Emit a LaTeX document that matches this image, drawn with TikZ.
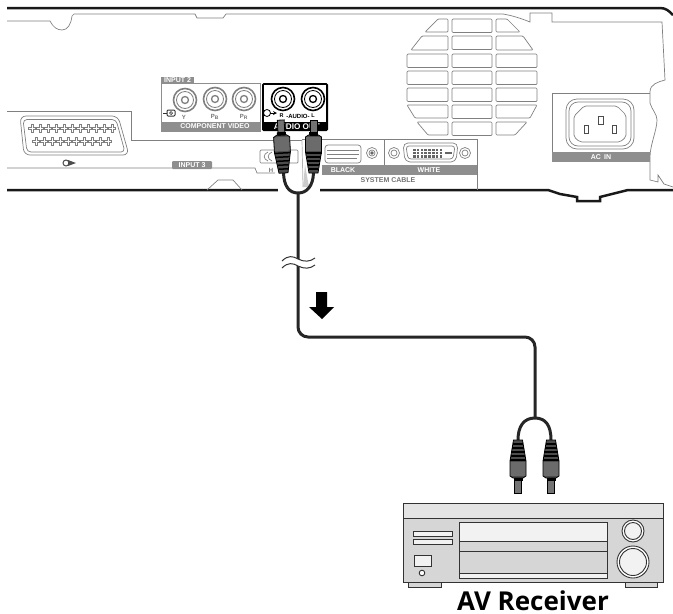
\documentclass[tikz,border=0pt]{standalone}
\usepackage{fontspec}
\setmainfont{Liberation Sans}
\setsansfont{Open Sans}
\usetikzlibrary{calc,shapes,arrows}
\definecolor{bandgray}{HTML}{8E8E8E}
\definecolor{linegray}{HTML}{808080}
\definecolor{bodygray}{HTML}{D6D6D6}
\definecolor{lidgray}{HTML}{E4E4E4}
\tikzset{
   casing/.style={draw=black!90, line width=2.5pt},
   thinline/.style={draw=linegray, line width=0.7pt},
   ventslot/.style={thinline, rounded corners=1pt},
   paneltext/.style={font=\bfseries\fontsize{7}{8}\selectfont, text=white, inner sep=0pt},
   graytext/.style={font=\bfseries\fontsize{6}{7}\selectfont, text=black!55, inner sep=0pt},
   cable/.style={draw=black!85, line width=3pt},
   receiver/.style={draw=black!80, line width=0.9pt},
   rcaplug/.pic={
     \fill[black!70] (-4.5,0) -- (4.5,0) -- (8,21) -- (8,36) -- (5,38) -- (-5,38) -- (-8,36) -- (-8,21) -- cycle;
     \foreach \r/\w in {4/4.8,8/5.6,12/6.3,16/7,20/8}
       \draw[black, line width=1.5pt] (-\w,\r) -- (\w,\r);
     \fill[black!58] (-8,22) rectangle (8,36);
     \draw[black, line width=0.8pt] (-4.5,0) -- (4.5,0) -- (8,21) -- (8,36) -- (5,38) -- (-5,38) -- (-8,36) -- (-8,21) -- cycle;
     \draw[black, line width=0.8pt, fill=black!55] (-3.4,38) rectangle (3.4,53);
     \fill[black] (-4.5,38) rectangle (4.5,41);
   }
}
\newcommand{\rcajack}[3]{
  \draw[#3, line width=1.6pt, fill=white] (#1,#2) circle (11.5pt);
  \draw[#3, line width=0.8pt] (#1,#2) circle (8.5pt);
  \draw[#3, line width=1.3pt] (#1,#2) circle (3.5pt);
}
\newcommand{\scartpin}[2]{
  \draw[linegray, line width=0.6pt, shift={(#1,#2)}] (-1.2,-4.2) -- (1.2,-4.2) -- (1.2,-1.2) -- (3.6,-1.2) -- (3.6,1.2) -- (1.2,1.2)
    -- (1.2,4.2) -- (-1.2,4.2) -- (-1.2,1.2) -- (-3.6,1.2) -- (-3.6,-1.2) -- (-1.2,-1.2) -- cycle;
}
\begin{document}
\begin{tikzpicture}[x=1pt,y=-1pt]
\useasboundingbox (0,0) rectangle (673,614);
% casing of the player
\draw[casing] (7,8) -- (660,8) .. controls (666,8) and (669,11) .. (673,15);
\draw[casing] (7,190) -- (548,190) -- (560,194) -- (577,197) -- (577,201) -- (600,201) -- (600,197) -- (628,190) -- (673,190);
\draw[thinline] (7,21) -- (50,21) .. controls (53,27) and (57,30) .. (62,30)
  .. controls (68,30) and (71,24) .. (72,16) -- (74,14) -- (195,14) -- (197,18) -- (223,18) -- (226,14)
  -- (503,14) .. controls (515,16) and (525,20) .. (530,22) -- (530,13) -- (552,13) -- (552,22) -- (662,22)
  -- (665,80) .. controls (658,82) and (650,84) .. (650,92) -- (650,103)
  .. controls (652,110) and (657,114) .. (657,120) .. controls (657,130) and (650,145) .. (650,157)
  -- (650,180) -- (658,182) -- (658,175) -- (664,184) -- (673,187);
% scart
\draw[thinline] (7,111) -- (131,111) -- (131,140) -- (302,140);
\draw[thinline, rounded corners=6pt] (20,116) -- (118,116) -- (129,155) -- (24,155) -- cycle;
\draw[thinline, rounded corners=4pt] (23,119.5) -- (116,119.5) -- (125,152) -- (27,152) -- cycle;
\foreach \x in {0,...,10} {
  \scartpin{32+8*\x}{128}
}
\foreach \x in {0,...,9} {
  \scartpin{36+8*\x}{141}
}
\draw[black!70, line width=1pt] (66,163) circle (3pt);
\fill[black!70] (68,160) -- (76,163) -- (68,166) -- cycle;
\draw[thinline] (7,168) -- (172,168) (212,168) -- (255,168) -- (257,173) -- (275,173);
\fill[bandgray, rounded corners=1pt] (172,161) rectangle (212,169);
\node[paneltext] (inputthree) at (192,165) {INPUT 3};
\draw[thinline] (207,190) -- (218,180) -- (233,180) -- (242,190);
% component video
\fill[bandgray] (161,77) rectangle (194,84);
\node[paneltext] (inputtwo) at (177.5,80.5) {INPUT 2};
\draw[bandgray, line width=1pt] (161,83) rectangle (260,131);
\fill[bandgray] (161,122) rectangle (260,131);
\node[paneltext] (component) at (215,126.5) {COMPONENT VIDEO};
\rcajack{185}{100}{black!50}
\rcajack{215}{99}{black!50}
\rcajack{244}{99}{black!50}
\node[graytext] (lblY) at (184,117) {Y};
\node[graytext] (lblPb) at (215,117) {P\textsubscript{B}};
\node[graytext] (lblPr) at (244,117) {P\textsubscript{R}};
\draw[black!80, line width=1pt] (163,113) -- (167,113);
\draw[black!80, line width=1pt, rounded corners=1pt] (167,110) rectangle (175,116);
\draw[black!80, line width=0.7pt] (171,113) circle (1.5pt);
% audio out
\fill[black, rounded corners=1.5pt] (262,83) rectangle (328,131);
\fill[white] (264,85) rectangle (326,122);
\rcajack{283}{99}{black}
\rcajack{313}{99}{black}
\draw[black, line width=0.8pt] (267,113) circle (3.5pt);
\draw[black, line width=0.8pt, -stealth] (270,113) -- (277,113);
\node[font=\bfseries\fontsize{5.5}{6}\selectfont, inner sep=0pt] (lblR) at (281.5,116) {R};
\node[font=\bfseries\fontsize{6}{6}\selectfont, inner sep=0pt] (lblAudio) at (298,116.5) {-AUDIO-};
\node[font=\bfseries\fontsize{5.5}{6}\selectfont, inner sep=0pt] (lblL) at (313,116) {L};
\node[paneltext, font=\bfseries\fontsize{8.2}{9}\selectfont] (audioout) at (297,126.5) {AUDIO OUT};
% hdmi
\draw[thinline, rounded corners=1pt] (260,150) rectangle (298,163);
\draw[thinline] (268,152) .. controls (263,154) and (263,159) .. (268,161);
\draw[thinline] (272,152) .. controls (267,154) and (267,159) .. (272,161);
\node[graytext] (lblH) at (271,170.5) {H};
% gap in the casing round the cable
\fill[white] (278,186) rectangle (320,194);
\draw[draw=black!30, line width=0.7pt] (302,140) -- (303,187);
\fill[black!20] (305,165) -- (309,187) -- (303,187) -- cycle;
% system cable
\draw[thinline] (302,139) -- (477,139) -- (477,190);
\draw[thinline] (384,139) -- (384,165);
\fill[bandgray] (322,165) rectangle (477,175);
\node[paneltext] (lblBlack) at (343,170.5) {BLACK};
\node[paneltext] (lblWhite) at (429,170.5) {WHITE};
\node[graytext, font=\bfseries\fontsize{7}{8}\selectfont] (lblSystem) at (388,180.5) {SYSTEM CABLE};
\draw[thinline, rounded corners=3pt] (325,145) -- (361,145) -- (361,163) -- (325,163) -- cycle;
\draw[thinline] (327,150) -- (359,150) (327,154) -- (359,154) (327,158) -- (357,158);
\foreach \x in {372,394,465} {
  \draw[thinline] (\x,153) circle (5.5pt);
  \draw[thinline] (\x,153) circle (3pt);
}
\fill[black!60] (372,153) circle (1.8pt);
\draw[thinline, rounded corners=5pt] (403,143) -- (458,143) -- (456,162) -- (405,162) -- cycle;
\draw[thinline, rounded corners=3pt] (406,146) -- (455,146) -- (453,159) -- (408,159) -- cycle;
\foreach \x in {0,...,7} {
  \foreach \y in {0,1,2} {
    \fill[black!60] ($(413,149)+(3.8*\x,3.2*\y)$) rectangle +(2.6,2.2);
  }
}
\draw[black!60, line width=1.2pt] (445,153) -- (452,153);
% vents
\foreach \y in {54,71,88} {
  \draw[ventslot] (407,\y) rectangle (448,\y+13.5);
  \draw[ventslot] (496,\y) rectangle (537,\y+13.5);
}
\foreach \y in {19,36,54,71,88,105,122} {
  \draw[ventslot] (452,\y) rectangle (492,\y+13.5);
}
\draw[ventslot] (425,32) -- (438,19) -- (448,19) -- (448,32) -- cycle;
\draw[ventslot] (496,19) -- (507,19) -- (520,32) -- (496,32) -- cycle;
\draw[ventslot] (411,50) -- (422,36) -- (448,36) -- (448,50) -- cycle;
\draw[ventslot] (496,36) -- (523,36) -- (533,50) -- (496,50) -- cycle;
\draw[ventslot] (407,105) -- (448,105) -- (448,118) -- (415,118) -- cycle;
\draw[ventslot] (496,105) -- (537,105) -- (530,118) -- (496,118) -- cycle;
\draw[ventslot] (417,122) -- (448,122) -- (448,135) -- (428,135) -- cycle;
\draw[ventslot] (496,122) -- (527,122) -- (515,135) -- (496,135) -- cycle;
% ac in
\draw[thinline] (650,93) -- (552,93) -- (552,162);
\fill[bandgray] (552,152) rectangle (650,162);
\node[paneltext] (lblAc) at (601,157) {AC\, IN};
\draw[thinline, rounded corners=11pt] (566,99) rectangle (634,149);
\draw[thinline, rounded corners=9pt] (569,102) rectangle (631,146);
\draw[thinline, rounded corners=2pt] (574,116) -- (584,106) -- (617,106) -- (626,115) -- (626,137) -- (620,142) -- (580,142) -- (574,137) -- cycle;
\draw[black!70, line width=0.8pt] (584,125) rectangle (588,133);
\draw[black!70, line width=0.8pt] (598,116) rectangle (603,124);
\draw[black!70, line width=0.8pt] (612,125) rectangle (616,133);
% av receiver
\draw[receiver, fill=bodygray] (408,582) rectangle (441,587);
\draw[receiver, fill=bodygray] (625,582) rectangle (657,587);
\draw[receiver, fill=bodygray] (403,503) rectangle (663,582);
\draw[receiver, fill=lidgray] (403,503) rectangle (663,518);
\draw[receiver, fill=bodygray] (459,522) rectangle (607,578);
\draw[receiver, fill=black!5] (459,522) rectangle (607,541);
\draw[receiver] (459,551) -- (607,551);
\draw[receiver, fill=black!5] (459,573) rectangle (607,578);
\draw[receiver, fill=black!5] (413,531) rectangle (452,536);
\draw[receiver, fill=black!5] (413,539) rectangle (452,544);
\draw[receiver, fill=black!5] (414,555) rectangle (431,566);
\draw[receiver, fill=white] (422,573) circle (2.8pt);
\draw[receiver, fill=white] (633,531) circle (11pt);
\draw[receiver, fill=black!5] (633,531) circle (8.5pt);
\draw[receiver, fill=white] (633,562) circle (16pt);
\draw[receiver, fill=black!5] (633,562) circle (13.5pt);
\node[font=\sffamily\bfseries\fontsize{26}{26}\selectfont, inner sep=0pt, anchor=base] (avlabel) at (533,610) {AV Receiver};
% cable
\coordinate (plugTL) at (283.5,173);
\coordinate (plugTR) at (313.5,173);
\coordinate (splitTop) at (298,193);
\coordinate (bendA) at (298,337);
\coordinate (bendB) at (535,337);
\coordinate (splitBot) at (535,418);
\coordinate (plugBL) at (518,440);
\coordinate (plugBR) at (551,440);
\draw[cable] (plugTL) .. controls (284,186) and (289,193) .. (splitTop) .. controls (307,193) and (313,186) .. (plugTR);
\draw[cable, rounded corners=10pt] (splitTop) -- (bendA) -- (bendB) -- (splitBot);
\draw[cable] (plugBL) .. controls (518,426) and (524,418) .. (splitBot) .. controls (546,418) and (551,426) .. (plugBR);
\pic[yscale=-1, rotate=-3] at (plugTL) {rcaplug};
\pic[yscale=-1] at (plugTR) {rcaplug};
\pic at (plugBL) {rcaplug};
\pic at (plugBR) {rcaplug};
% break mark and direction
\fill[white] (282,261) .. controls (288,255) and (293,256) .. (298,259) .. controls (304,262) and (310,262) .. (315,258)
  -- (315,265) .. controls (310,269) and (304,269) .. (298,266) .. controls (293,263) and (288,262) .. (282,268) -- cycle;
\draw[black!80, line width=1pt] (282,261) .. controls (288,255) and (293,256) .. (298,259) .. controls (304,262) and (310,262) .. (315,258);
\draw[black!80, line width=1pt] (282,268) .. controls (288,262) and (293,263) .. (298,266) .. controls (304,269) and (310,269) .. (315,265);
\fill[black] (316,292) -- (327,292) -- (327,307) -- (334,307) -- (322,319) -- (309,307) -- (316,307) -- cycle;
\end{tikzpicture}
\end{document}
